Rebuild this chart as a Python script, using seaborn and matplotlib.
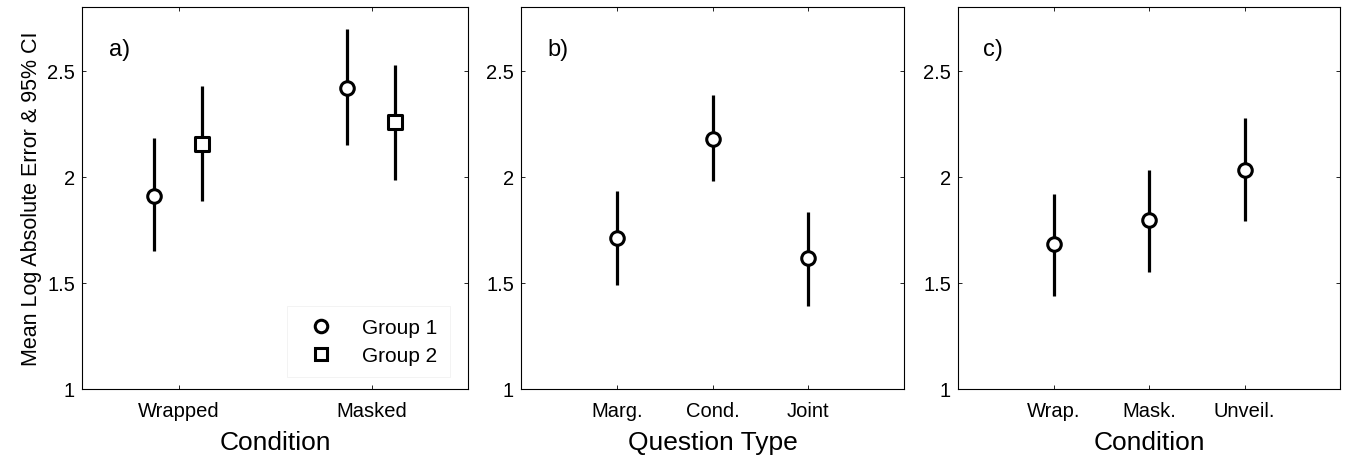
import numpy as np
import pandas as pd
import matplotlib
matplotlib.use("Agg")
import matplotlib.pyplot as plt
from matplotlib.lines import Line2D
import seaborn as sns

# panel a) condition x group
cond_a = ["Wrapped", "Masked"]
g1_mean = [1.91, 2.42]
g1_lo = [1.65, 2.15]
g1_hi = [2.185, 2.695]
g2_mean = [2.155, 2.26]
g2_lo = [1.885, 1.985]
g2_hi = [2.43, 2.525]

# panel b) question type
qtype_b = ["Marg.", "Cond.", "Joint"]
b_mean = [1.71, 2.18, 1.615]
b_lo = [1.49, 1.98, 1.39]
b_hi = [1.935, 2.385, 1.835]

# panel c) condition
cond_c = ["Wrap.", "Mask.", "Unveil."]
c_mean = [1.685, 1.795, 2.03]
c_lo = [1.44, 1.55, 1.79]
c_hi = [1.92, 2.03, 2.275]

sns.set_theme(style="ticks")
plt.rcParams["font.family"] = ["Liberation Sans", "DejaVu Sans"]
plt.rcParams["axes.linewidth"] = 0.8
plt.rcParams["xtick.direction"] = "in"
plt.rcParams["ytick.direction"] = "in"
plt.rcParams["text.color"] = "black"
plt.rcParams["axes.labelcolor"] = "black"
plt.rcParams["xtick.color"] = "black"
plt.rcParams["ytick.color"] = "black"

W, H = 1345, 456
fig = plt.figure(figsize=(W / 100, H / 100), dpi=100)


def px_axes(left, right, top=8, bottom=390):
    return fig.add_axes([left / W, (H - bottom) / H, (right - left) / W, (bottom - top) / H])


def style_axes(ax, ticks, labels, xlim, xlabel):
    ax.set_xlim(*xlim)
    ax.set_ylim(1, 2.8)
    ax.set_xticks(ticks)
    ax.set_xticklabels(labels, fontsize=14.5)
    ax.set_yticks([1, 1.5, 2, 2.5])
    ax.set_yticklabels(["1", "1.5", "2", "2.5"], fontsize=14.5)
    ax.tick_params(top=True, right=True, length=3, width=0.6, colors="black")
    ax.tick_params(axis="x", pad=9)
    ax.tick_params(axis="y", pad=5)
    ax.set_xlabel(xlabel, fontsize=19, labelpad=7)
    for s in ax.spines.values():
        s.set_color("black")
        s.set_visible(True)


def draw(ax, df, marker, msize):
    ax.vlines(df["x"], df["lo"], df["hi"], color="black", lw=2.3, zorder=2)
    sns.scatterplot(data=df, x="x", y="mean", marker=marker, s=msize, color="white",
                    edgecolor="black", linewidth=2.2, zorder=3, legend=False, ax=ax)
    ax.set_xlabel("")
    ax.set_ylabel("")


# panel a
ax_a = px_axes(82, 468)
pos_a = np.arange(1, len(cond_a) + 1)
df_g1 = pd.DataFrame({"x": pos_a - 0.127, "mean": g1_mean, "lo": g1_lo, "hi": g1_hi})
df_g2 = pd.DataFrame({"x": pos_a + 0.123, "mean": g2_mean, "lo": g2_lo, "hi": g2_hi})
draw(ax_a, df_g1, "o", 95)
draw(ax_a, df_g2, "s", 100)
style_axes(ax_a, pos_a, cond_a, (0.5, 2.5), "Condition")
ax_a.set_ylabel("Mean Log Absolute Error & 95% CI", fontsize=15.5, labelpad=4)
ax_a.text(0.07, 0.89, "a)", transform=ax_a.transAxes, fontsize=17, va="center")
handles = [
    Line2D([], [], ls="none", marker="o", ms=9, mfc="white", mec="black", mew=2.2),
    Line2D([], [], ls="none", marker="s", ms=9, mfc="white", mec="black", mew=2.2),
]
leg = ax_a.legend(handles, ["Group 1", "Group 2"], loc="center", fontsize=15,
                  frameon=True, fancybox=False, edgecolor="#eeeeee", handletextpad=1.0,
                  handlelength=2.0, borderpad=0.6, labelspacing=0.4,
                  bbox_to_anchor=(0.743, 0.124))
leg.get_frame().set_linewidth(0.6)

# panel b
ax_b = px_axes(521, 904)
pos_b = np.arange(1, len(qtype_b) + 1)
df_b = pd.DataFrame({"x": pos_b, "mean": b_mean, "lo": b_lo, "hi": b_hi})
draw(ax_b, df_b, "o", 95)
style_axes(ax_b, pos_b, qtype_b, (0, 4), "Question Type")
ax_b.text(0.07, 0.89, "b)", transform=ax_b.transAxes, fontsize=17, va="center")

# panel c
ax_c = px_axes(958, 1340)
pos_c = np.arange(1, len(cond_c) + 1)
df_c = pd.DataFrame({"x": pos_c, "mean": c_mean, "lo": c_lo, "hi": c_hi})
draw(ax_c, df_c, "o", 95)
style_axes(ax_c, pos_c, cond_c, (0, 4), "Condition")
ax_c.text(0.065, 0.89, "c)", transform=ax_c.transAxes, fontsize=17, va="center")

fig.savefig("out.png", dpi=100)
